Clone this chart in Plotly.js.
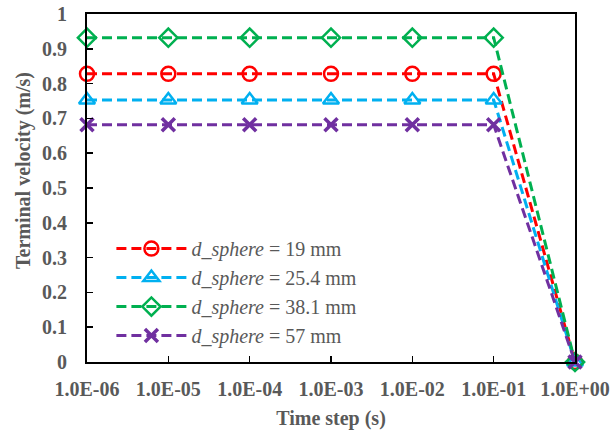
<!DOCTYPE html>
<html>
<head>
<meta charset="utf-8">
<script src="https://cdn.plot.ly/plotly-3.0.1.min.js"></script>
<style>
  html, body { margin: 0; padding: 0; background: #fff; }
  #chart { width: 614px; height: 434px; }
</style>
</head>
<body>
<div id="chart"></div>
<script>
// Time-step categories shown on the x axis
const timeSteps = ['1.0E-06', '1.0E-05', '1.0E-04', '1.0E-03', '1.0E-02', '1.0E-01', '1.0E+00'];

// Terminal velocity (m/s) for each sphere diameter
const v19   = [0.828, 0.828, 0.828, 0.828, 0.828, 0.828, 0];
const v25_4 = [0.753, 0.753, 0.753, 0.753, 0.753, 0.753, 0];
const v38_1 = [0.932, 0.932, 0.932, 0.932, 0.932, 0.932, 0];
const v57   = [0.682, 0.682, 0.682, 0.682, 0.682, 0.682, 0];

const seriesNames = [
  '<i>d_sphere</i> = 19 mm',
  '<i>d_sphere</i> = 25.4 mm',
  '<i>d_sphere</i> = 38.1 mm',
  '<i>d_sphere</i> = 57 mm'
];

const yTicks = [0, 0.1, 0.2, 0.3, 0.4, 0.5, 0.6, 0.7, 0.8, 0.9, 1];
const yTickText = ['0', '0.1', '0.2', '0.3', '0.4', '0.5', '0.6', '0.7', '0.8', '0.9', '1'];

const colors = ['#FF0000', '#00B0F0', '#00B050', '#7030A0'];
const symbols = ['circle-open', 'triangle-up-open', 'diamond-open', 'x-thin-open'];
const values = [v19, v25_4, v38_1, v57];

const traces = values.map((v, i) => ({
  type: 'scatter',
  mode: 'lines+markers',
  x: timeSteps,
  y: v,
  name: seriesNames[i],
  cliponaxis: false,
  line: { color: colors[i], width: 3, dash: '10px,5px' },
  marker: {
    symbol: symbols[i],
    size: i === 3 ? 13 : 14,
    color: colors[i],
    line: { color: colors[i], width: i === 3 ? 3.5 : 2.5 }
  }
}));

const serif = '"Liberation Serif", "Times New Roman", serif';
const tickFont = { family: serif, size: 20, color: '#595959', weight: 'bold' };

const layout = {
  width: 614,
  height: 434,
  margin: { l: 87, r: 39, t: 14, b: 72 },
  paper_bgcolor: '#ffffff',
  plot_bgcolor: '#ffffff',
  showlegend: true,
  legend: {
    x: 0.05, y: 0.382, xanchor: 'left', yanchor: 'top',
    bgcolor: 'rgba(0,0,0,0)',
    itemwidth: 70,
    tracegroupgap: 0,
    font: { family: serif, size: 20, color: '#595959' }
  },
  xaxis: {
    type: 'category',
    categoryorder: 'array',
    categoryarray: timeSteps,
    range: [0, 6],
    showline: true, linecolor: '#000', linewidth: 2, mirror: true,
    ticks: 'inside', ticklen: 6, tickwidth: 1.5, tickcolor: '#000',
    showgrid: false, zeroline: false,
    tickfont: tickFont,
    ticklabelstandoff: 8,
    title: { text: '<b>Time step (s)</b>', font: tickFont, standoff: 12 }
  },
  yaxis: {
    range: [0, 1],
    tickvals: yTicks,
    ticktext: yTickText,
    showline: true, linecolor: '#000', linewidth: 2, mirror: true,
    ticks: 'inside', ticklen: 6, tickwidth: 1.5, tickcolor: '#000',
    showgrid: false, zeroline: false,
    tickfont: tickFont,
    ticklabelstandoff: 14
  },
  // vertical axis title, set slightly above the plot's mid-height
  annotations: [{
    text: '<b>Terminal velocity (m/s)</b>',
    xref: 'paper', yref: 'paper',
    x: -0.129, y: 0.549,
    xanchor: 'center', yanchor: 'middle',
    textangle: -90,
    showarrow: false,
    font: tickFont
  }]
};

Plotly.newPlot('chart', traces, layout, { staticPlot: true, displayModeBar: false });
</script>
</body>
</html>
